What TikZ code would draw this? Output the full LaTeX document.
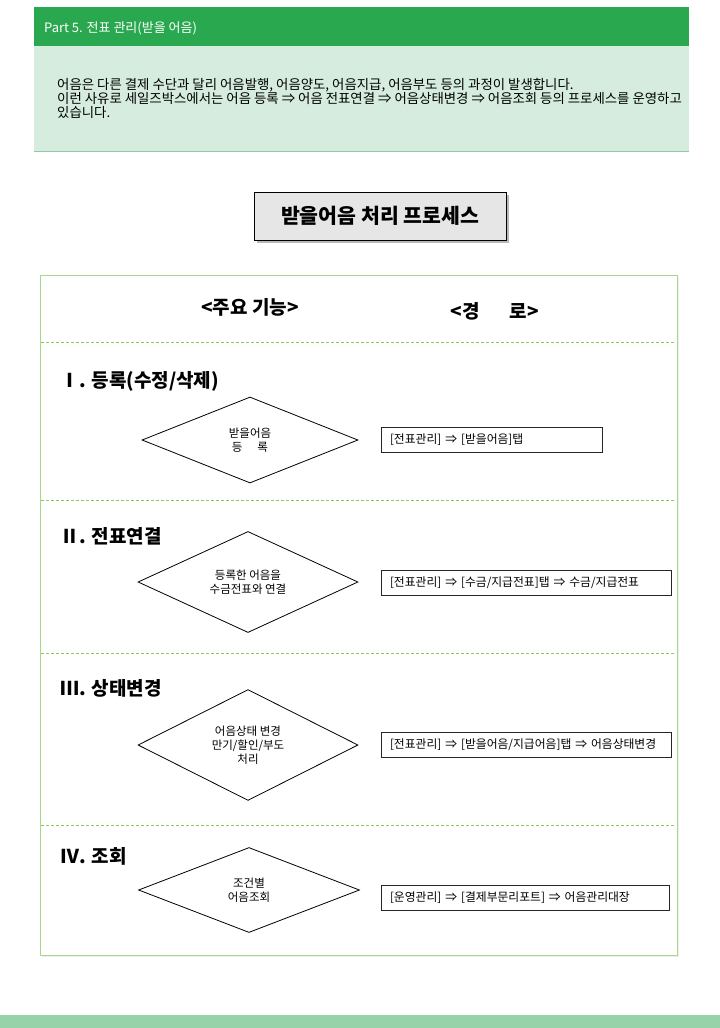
\documentclass[tikz,border=0pt]{standalone}
\usepackage{fontspec}
\setmainfont{Noto Sans CJK KR}
\definecolor{HeaderGreen}{HTML}{2AA850}
\definecolor{PaleGreen}{HTML}{D5ECDE}
\definecolor{PaleLine}{HTML}{8DCBA0}
\definecolor{FrameGreen}{HTML}{A6D88A}
\definecolor{DashGreen}{HTML}{8CC85A}
\definecolor{BottomGreen}{HTML}{96D3A8}
\definecolor{TitleGray}{HTML}{E6E6E6}
\usetikzlibrary{shapes.geometric,shadows}
\tikzset{
  introLine/.style={anchor=base west, inner sep=0pt, font=\fontsize{13.4}{14}\selectfont},
  titleBox/.style={draw=black, line width=1pt, fill=TitleGray, minimum width=252pt, minimum height=48pt, font=\fontsize{20.5}{22}\selectfont\bfseries, drop shadow={shadow xshift=3pt, shadow yshift=-3pt, fill=black!55}},
  colHead/.style={font=\fontsize{19}{20}\selectfont\bfseries},
  sectionTitle/.style={anchor=base west, inner sep=0pt, font=\fontsize{19}{21}\selectfont\bfseries},
  stepDiamond/.style={diamond, draw=black, line width=0.8pt, inner sep=0pt, align=center, font=\fontsize{11.5}{14}\selectfont},
  routeBox/.style={draw=black!85, line width=1pt, inner xsep=9pt, inner ysep=0pt, minimum height=25pt, align=left, font=\fontsize{11.8}{14}\selectfont},
  dividerLine/.style={draw=DashGreen, line width=0.8pt, dash pattern=on 3pt off 2pt}
}

\begin{document}
\begin{tikzpicture}[x=1pt,y=-1pt]
\useasboundingbox (0,0) rectangle (720,1028);

% top banner
\fill[HeaderGreen] (34,7) rectangle (689,46);
\node[anchor=base west, inner sep=0pt, text=white, font=\fontsize{13}{14}\selectfont] (partLabel) at (44,32) {Part 5. 전표 관리(받을 어음)};
\fill[PaleGreen] (34,46) rectangle (689,151);
\draw[PaleLine, line width=1pt] (34,151) -- (689,151);
\node[introLine] (introLineA) at (57,89) {어음은 다른 결제 수단과 달리 어음발행, 어음양도, 어음지급, 어음부도 등의 과정이 발생합니다.};
\node[introLine] (introLineB) at (57,103) {이런 사유로 세일즈박스에서는 어음 등록 ⇒ 어음 전표연결 ⇒ 어음상태변경 ⇒ 어음조회 등의 프로세스를 운영하고};
\node[introLine] (introLineC) at (57,117) {있습니다.};

% title
\node[titleBox] (processTitle) at (380,216) {받을어음 처리 프로세스};

% frame and dividers
\draw[FrameGreen, line width=1pt, fill=white, drop shadow={shadow xshift=2pt, shadow yshift=-2pt, fill=black!12}] (40,275) rectangle (677,955);
\foreach \yy in {342,500,653,825}
  \draw[dividerLine] (41,\yy) -- (676,\yy);

\node[colHead] (colFunc) at (250,307) {<주요 기능>};
\node[colHead] (colRoute) at (495,311) {<경\hspace{30pt}로>};

% I. register
\node[sectionTitle] (secOne) at (60,387) {Ⅰ. 등록(수정/삭제)};
\node[stepDiamond, minimum width=216pt, minimum height=86pt] (stepOne) at (250,440) {받을어음\\등\hspace{15pt}록};
\node[routeBox, minimum width=221pt, text width=203pt] (routeOne) at (491.5,439.5) {[전표관리] ⇒ [받을어음]탭};

% II. link voucher
\node[sectionTitle] (secTwo) at (60,543) {Ⅱ. 전표연결};
\node[stepDiamond, minimum width=220pt, minimum height=98pt] (stepTwo) at (248,582) {등록한 어음을\\수금전표와 연결};
\node[routeBox, minimum width=290pt, text width=272pt] (routeTwo) at (526,582.5) {[전표관리] ⇒ [수금/지급전표]탭 ⇒ 수금/지급전표};

% III. status change
\node[sectionTitle] (secThree) at (60,695) {Ⅲ. 상태변경};
\node[stepDiamond, minimum width=220pt, minimum height=87pt] (stepThree) at (248,745) {어음상태 변경\\만기/할인/부도\\처리};
\node[routeBox, minimum width=290pt, text width=272pt] (routeThree) at (526,744.5) {[전표관리] ⇒ [받을어음/지급어음]탭 ⇒ 어음상태변경};

% IV. inquiry
\node[sectionTitle] (secFour) at (60,863) {Ⅳ. 조회};
\node[stepDiamond, minimum width=221pt, minimum height=85pt] (stepFour) at (249,890) {조건별\\어음조회};
\node[routeBox, minimum width=288pt, text width=270pt] (routeFour) at (525,898) {[운영관리] ⇒ [결제부문리포트] ⇒ 어음관리대장};

% bottom band
\fill[BottomGreen] (0,1015) rectangle (720,1028);
\end{tikzpicture}
\end{document}
